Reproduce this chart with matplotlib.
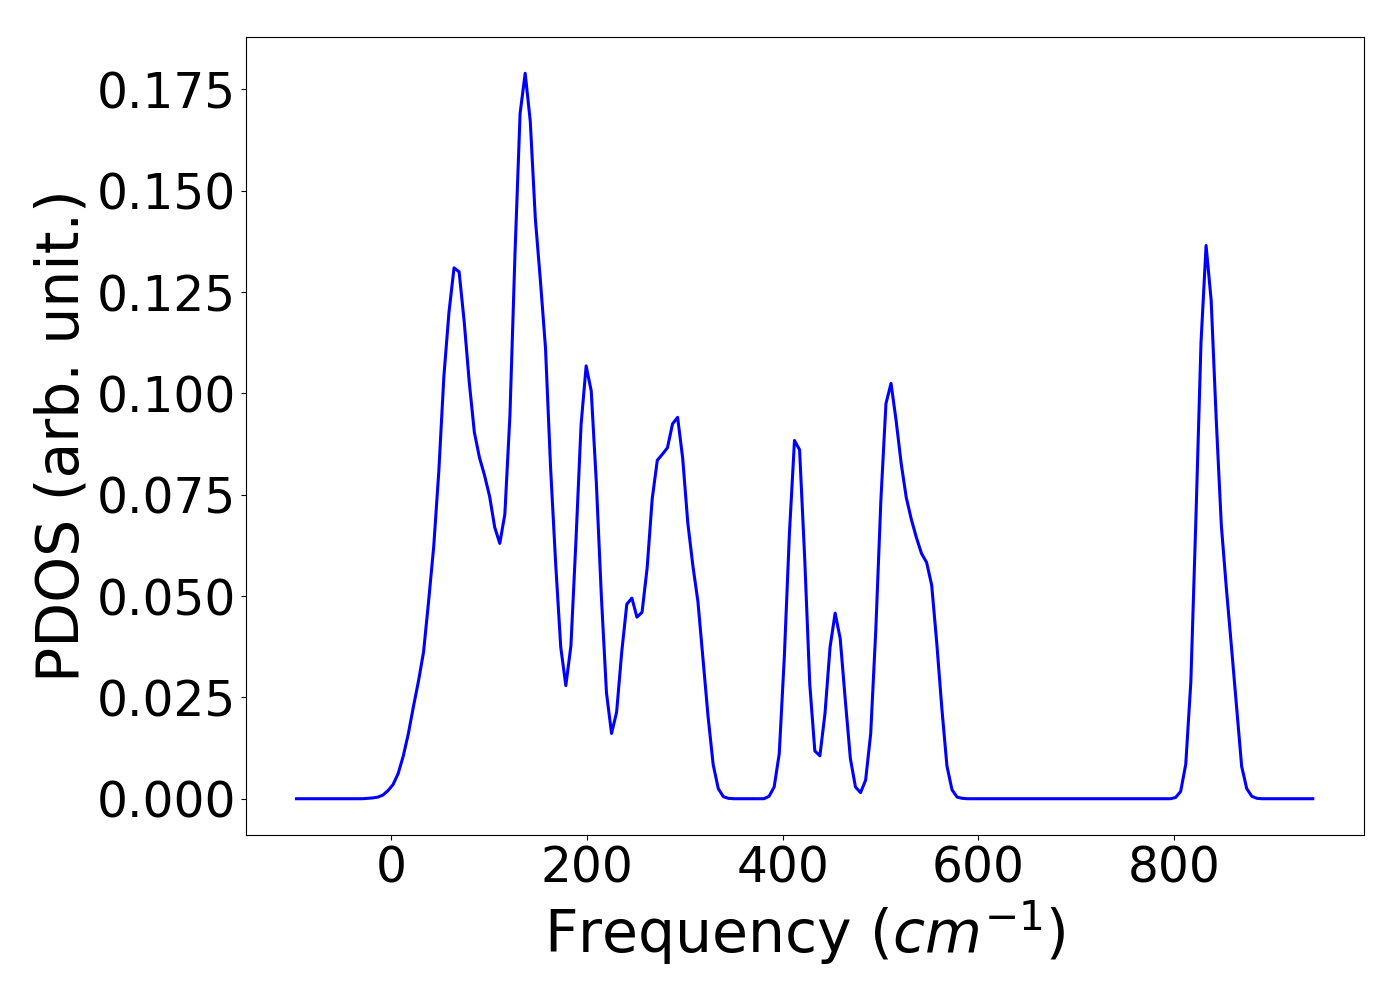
import numpy as np
import matplotlib
matplotlib.use("Agg")
import matplotlib.pyplot as plt
from matplotlib.ticker import MultipleLocator, FormatStrFormatter

# frequency grid (cm^-1), uniform sampling
freq_start = -96.5
freq_stop = 941.5
n_points = 201

# phonon density of states
pdos = [
    0.0, 0.0, 0.0, 0.0, 0.0, 0.0, 0.0, 0.0, 0.0, 0.0,
    0.0, 0.0, 0.0, 0.0, 0.0001, 0.0002, 0.0004, 0.0009, 0.0020, 0.0035,
    0.0062, 0.0105, 0.0160, 0.0227, 0.0290, 0.0362, 0.0488, 0.0622, 0.0807, 0.1042,
    0.1200, 0.1310, 0.1300, 0.1177, 0.1027, 0.0904, 0.0842, 0.0798, 0.0746, 0.0670,
    0.0630, 0.0702, 0.0946, 0.1346, 0.1691, 0.1790, 0.1672, 0.1431, 0.1278, 0.1112,
    0.0817, 0.0580, 0.0374, 0.0279, 0.0377, 0.0639, 0.0923, 0.1068, 0.1006, 0.0781,
    0.0498, 0.0261, 0.0161, 0.0214, 0.0362, 0.0480, 0.0495, 0.0448, 0.0460, 0.0569,
    0.0740, 0.0835, 0.0850, 0.0866, 0.0925, 0.0941, 0.0840, 0.0681, 0.0575, 0.0486,
    0.0344, 0.0202, 0.0084, 0.0025, 0.0005, 0.0001, 0.0, 0.0, 0.0, 0.0,
    0.0, 0.0, 0.0, 0.0006, 0.0029, 0.0111, 0.0350, 0.0654, 0.0884, 0.0861,
    0.0596, 0.0284, 0.0118, 0.0106, 0.0210, 0.0374, 0.0458, 0.0395, 0.0243, 0.0099,
    0.0029, 0.0015, 0.0046, 0.0161, 0.0416, 0.0736, 0.0975, 0.1025, 0.0933, 0.0827,
    0.0743, 0.0689, 0.0644, 0.0605, 0.0583, 0.0527, 0.0384, 0.0223, 0.0081, 0.0022,
    0.0004, 0.0001, 0.0, 0.0, 0.0, 0.0, 0.0, 0.0, 0.0, 0.0,
    0.0, 0.0, 0.0, 0.0, 0.0, 0.0, 0.0, 0.0, 0.0, 0.0,
    0.0, 0.0, 0.0, 0.0, 0.0, 0.0, 0.0, 0.0, 0.0, 0.0,
    0.0, 0.0, 0.0, 0.0, 0.0, 0.0, 0.0, 0.0, 0.0, 0.0,
    0.0, 0.0, 0.0, 0.0003, 0.0018, 0.0085, 0.0288, 0.0692, 0.1125, 0.1365,
    0.1230, 0.0935, 0.0675, 0.0518, 0.0374, 0.0226, 0.0080, 0.0025, 0.0006, 0.0001,
    0.0, 0.0, 0.0, 0.0, 0.0, 0.0, 0.0, 0.0, 0.0, 0.0,
    0.0,
]

freq = np.linspace(freq_start, freq_stop, n_points)

fig, ax = plt.subplots(figsize=(14, 10), dpi=100)
fig.subplots_adjust(left=0.1755, right=0.974, bottom=0.165, top=0.963)

ax.plot(freq, pdos, color='blue', linewidth=2.2)

ax.yaxis.set_major_locator(MultipleLocator(0.025))
ax.yaxis.set_major_formatter(FormatStrFormatter('%.3f'))

ax.set_xlabel(r'Frequency ($cm^{-1}$)', fontsize=42)
ax.set_ylabel('PDOS (arb. unit.)', fontsize=42)
ax.tick_params(labelsize=35)

fig.savefig('out.png')
